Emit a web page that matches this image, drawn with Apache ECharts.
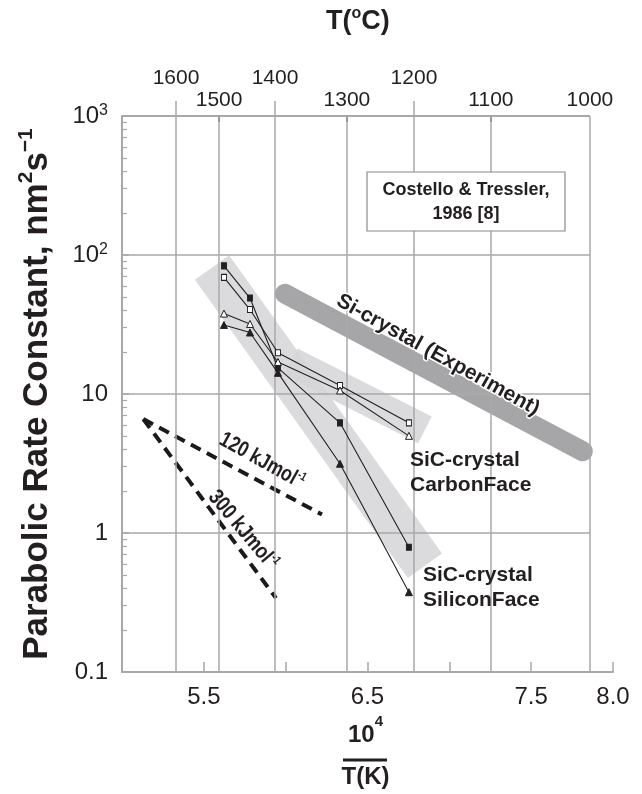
<!DOCTYPE html>
<html><head><meta charset="utf-8">
<script src="https://cdn.jsdelivr.net/npm/echarts@6/dist/echarts.min.js"></script>
<style>html,body{margin:0;padding:0;background:#fff}#c{width:642px;height:794px}</style>
</head><body><div id="c"></div>
<script>
// ---- data (x = 10^4 / T(K), y = parabolic rate constant, nm^2 s^-1) ----
const sicX = [5.623, 5.782, 5.953, 6.332, 6.753];
const siFaceSquare   = [83.5, 49.0, 15.4, 6.2, 0.79];
const siFaceTriangle = [31.4, 27.7, 14.2, 3.15, 0.375];
const cFaceSquare    = [69.0, 40.5, 19.8, 11.5, 6.2];
const cFaceTriangle  = [37.9, 31.9, 17.0, 10.6, 5.0];

const siCrystalBandX = [5.996, 7.816];
const siCrystalBandY = [52.6, 3.87];
const siliconBandX = [5.550, 6.851];
const siliconBandY = [81.3, 0.581];
const carbonBandX = [6.032, 6.851];
const carbonBandY = [17.0, 5.51];

const ea120X = [5.130, 6.222];
const ea120Y = [6.60, 1.357];
const ea300X = [5.130, 5.941];
const ea300Y = [6.60, 0.340];

const tempLabels = [1600, 1500, 1400, 1300, 1200, 1100, 1000];
const tempX = [5.330, 5.593, 5.935, 6.374, 6.784, 7.254, 7.859];
const upperRow = [1600, 1400, 1200];
const lowerRow = [1500, 1300, 1100, 1000];
const bottomLabels = [5.5, 6.5, 7.5, 8.0];
const yDecades = [0.1, 1, 10, 100, 1000];
const yMinor = [0.2,0.3,0.4,0.5,0.6,0.7,0.8,0.9, 2,3,4,5,6,7,8,9, 20,30,40,50,60,70,80,90, 200,300,400,500,600,700,800,900];

// ---- chart ----
const FONT = "'Liberation Sans', Arial, Helvetica, sans-serif";
const INK = '#231f20';
const GRID = '#a8a8aa';
const xMin = 5.0, xMax = 8.0, yMin = 0.1, yMax = 1000;

function pts(xs, ys) { return xs.map((x, i) => [x, ys[i]]); }
function xOfTemp(t) { return tempX[tempLabels.indexOf(t)]; }
function tempFmt(v) {
  let best = 0;
  tempX.forEach((x, i) => { if (Math.abs(x - v) < Math.abs(tempX[best] - v)) best = i; });
  return String(tempLabels[best]);
}

const gridLines = [];
tempX.forEach(x => gridLines.push([{ coord: [x, yMin] }, { coord: [x, yMax] }]));
yDecades.slice(1).forEach(v => gridLines.push([
  { coord: [xMin, v], lineStyle: { width: v === yMax ? 2 : 1.5 } },
  { coord: [tempX[tempX.length - 1], v] }
]));

const chart = echarts.init(document.getElementById('c'), null, { renderer: 'canvas' });

function dataSeries(name, ys, symbol, filled) {
  return {
    name, type: 'line', data: pts(sicX, ys), z: 5, silent: true,
    symbol, symbolSize: symbol === 'rect' ? [5, 6] : 7, showSymbol: true,
    lineStyle: { color: INK, width: 1.1 },
    itemStyle: { color: filled ? INK : '#fff', borderColor: INK, borderWidth: 1 },
    emphasis: { disabled: true }
  };
}
function band(name, xs, ys, width, color, cap, opacity) {
  return {
    name, type: 'line', data: pts(xs, ys), z: 2, silent: true,
    symbol: 'none', showSymbol: false,
    lineStyle: { color, width, cap, opacity },
    emphasis: { disabled: true }
  };
}
function dashed(name, xs, ys) {
  return {
    name, type: 'line', data: pts(xs, ys), z: 3, silent: true,
    symbol: 'none', showSymbol: false,
    lineStyle: { color: '#1a1a1a', width: 4, type: [11, 7], cap: 'butt' },
    emphasis: { disabled: true }
  };
}

const supStyle = { fontFamily: FONT, fontWeight: 'bold', fontSize: 12, fill: INK, verticalAlign: 'top', lineHeight: 12 };

const option = {
  animation: false,
  backgroundColor: '#fff',
  title: {
    text: '{a|T(}{s|o}{a|C)}',
    left: 326, top: 6, padding: 0,
    textStyle: {
      rich: {
        a: { fontFamily: FONT, fontWeight: 'bold', fontSize: 27, color: INK, lineHeight: 32 },
        s: { fontFamily: FONT, fontWeight: 'bold', fontSize: 16, color: INK, verticalAlign: 'top', lineHeight: 18 }
      }
    }
  },
  grid: { left: 122, right: 29, top: 116, bottom: 113, containLabel: false },
  xAxis: [
    {
      type: 'value', position: 'bottom', min: xMin, max: xMax, interval: 0.5,
      axisLine: { show: true, lineStyle: { color: GRID, width: 2 } },
      axisTick: { show: true, inside: true, length: 10, lineStyle: { color: GRID, width: 1.5 } },
      splitLine: { show: false },
      axisLabel: {
        margin: 13, fontFamily: FONT, fontSize: 24, color: INK,
        formatter: v => bottomLabels.some(b => Math.abs(b - v) < 1e-9) ? v.toFixed(1) : ''
      },
      name: '{n|10}{s|4}\n{n|T(K)}',
      nameLocation: 'middle', nameGap: 42,
      nameTextStyle: {
        padding: [0, 4, 0, 0],
        rich: {
          n: { fontFamily: FONT, fontWeight: 'bold', fontSize: 24, color: INK, lineHeight: 42 },
          s: { fontFamily: FONT, fontWeight: 'bold', fontSize: 15, color: INK, verticalAlign: 'top', lineHeight: 30 }
        }
      }
    },
    {
      type: 'value', position: 'top', min: xMin, max: xMax,
      axisLine: { show: false }, splitLine: { show: false },
      axisTick: { show: true, inside: false, length: 15, customValues: upperRow.map(xOfTemp), lineStyle: { color: GRID, width: 1.5 } },
      axisLabel: { customValues: upperRow.map(xOfTemp), margin: 27, fontFamily: FONT, fontSize: 21, color: INK, formatter: tempFmt }
    },
    {
      type: 'value', position: 'top', min: xMin, max: xMax,
      axisLine: { show: false }, splitLine: { show: false },
      axisTick: { show: true, inside: true, length: 6, customValues: lowerRow.slice(0, 3).map(xOfTemp), lineStyle: { color: '#333', width: 1.5 } },
      axisLabel: { customValues: lowerRow.map(xOfTemp), margin: 5, fontFamily: FONT, fontSize: 21, color: INK, formatter: tempFmt }
    }
  ],
  yAxis: [
    {
      type: 'log', logBase: 10, min: yMin, max: yMax, position: 'left',
      axisLine: { show: true, lineStyle: { color: GRID, width: 2 } },
      axisTick: { show: true, inside: true, length: 7, lineStyle: { color: GRID, width: 1.5 } },
      splitLine: { show: false },
      axisLabel: {
        margin: 14, fontFamily: FONT, fontSize: 24, color: INK,
        formatter: v => {
          const e = Math.round(Math.log10(v));
          if (e >= 2) return '{b|10}{s|' + e + '}';
          return e < 0 ? '0.1' : String(Math.pow(10, e));
        },
        rich: {
          b: { fontFamily: FONT, fontSize: 24, color: INK, lineHeight: 27 },
          s: { fontFamily: FONT, fontSize: 16, color: INK, verticalAlign: 'top', lineHeight: 16 }
        }
      },
      name: '{t|Parabolic Rate Constant, nm}{s|2}{t|s}{s|\u22121}',
      nameLocation: 'middle', nameRotate: 90, nameGap: 64,
      nameTextStyle: {
        rich: {
          t: { fontFamily: FONT, fontWeight: 'bold', fontSize: 35, color: INK, lineHeight: 42 },
          s: { fontFamily: FONT, fontWeight: 'bold', fontSize: 21, color: INK, verticalAlign: 'top', lineHeight: 24 }
        }
      }
    },
    {
      type: 'log', logBase: 10, min: yMin, max: yMax, position: 'left',
      axisLine: { show: false }, splitLine: { show: false }, axisLabel: { show: false },
      axisTick: { show: true, inside: true, length: 5, customValues: yMinor, lineStyle: { color: GRID, width: 1.2 } }
    }
  ],
  series: [
    {
      name: 'grid', type: 'line', data: [], z: 1, silent: true, symbol: 'none',
      markLine: {
        silent: true, symbol: ['none', 'none'], animation: false,
        label: { show: false },
        lineStyle: { color: GRID, width: 1.5, type: 'solid' },
        emphasis: { disabled: true },
        data: gridLines
      }
    },
    band('Silicon face band', siliconBandX, siliconBandY, 42, '#d5d5d7', 'butt', 0.85),
    band('Carbon face band', carbonBandX, carbonBandY, 30, '#d5d5d7', 'butt', 0.85),
    band('Si-crystal (Experiment)', siCrystalBandX, siCrystalBandY, 20, '#a6a6a8', 'round', 1),
    dashed('120 kJ/mol', ea120X, ea120Y),
    dashed('300 kJ/mol', ea300X, ea300Y),
    dataSeries('SiC Si-face (square)', siFaceSquare, 'rect', true),
    dataSeries('SiC Si-face (triangle)', siFaceTriangle, 'triangle', true),
    dataSeries('SiC C-face (square)', cFaceSquare, 'rect', false),
    dataSeries('SiC C-face (triangle)', cFaceTriangle, 'triangle', false)
  ],
  graphic: [
    { type: 'rect', z: 100, shape: { x: 367, y: 172, width: 198, height: 59 },
      style: { fill: '#fff', stroke: '#8a8a8c', lineWidth: 1.2 } },
    { type: 'text', z: 101, x: 466, y: 202,
      style: { text: 'Costello & Tressler,\n1986 [8]', fontFamily: FONT, fontWeight: 'bold', fontSize: 18,
               lineHeight: 24, fill: INK, align: 'center', verticalAlign: 'middle' } },
    { type: 'line', z: 100, shape: { x1: 343, y1: 760, x2: 387, y2: 760 },
      style: { stroke: INK, lineWidth: 3 } },
    { type: 'text', z: 100, x: 438, y: 355, rotation: -29 * Math.PI / 180,
      style: { text: 'Si-crystal (Experiment)', fontFamily: FONT, fontWeight: 'bold', fontSize: 21,
               fill: INK, stroke: '#fff', lineWidth: 3, align: 'center', verticalAlign: 'middle' } },
    { type: 'text', z: 100, x: 262, y: 461, rotation: -29 * Math.PI / 180, scaleX: 0.8,
      style: { text: '{m|120 kJmol}{s|-1}', align: 'center', verticalAlign: 'middle',
               rich: { m: { fontFamily: FONT, fontWeight: 'bold', fontSize: 22, fill: INK, lineHeight: 24 }, s: supStyle } } },
    { type: 'text', z: 100, x: 243, y: 530, rotation: -50 * Math.PI / 180, scaleX: 0.82,
      style: { text: '{m|300 kJmol}{s|-1}', align: 'center', verticalAlign: 'middle',
               rich: { m: { fontFamily: FONT, fontWeight: 'bold', fontSize: 22, fill: INK, lineHeight: 24 }, s: supStyle } } },
    { type: 'text', z: 100, x: 410, y: 472.5,
      style: { text: 'SiC-crystal\nCarbonFace', fontFamily: FONT, fontWeight: 'bold', fontSize: 21,
               lineHeight: 25, fill: INK, align: 'left', verticalAlign: 'middle' } },
    { type: 'text', z: 100, x: 423, y: 587.5,
      style: { text: 'SiC-crystal\nSiliconFace', fontFamily: FONT, fontWeight: 'bold', fontSize: 21,
               lineHeight: 25, fill: INK, align: 'left', verticalAlign: 'middle' } }
  ]
};
chart.setOption(option);
</script>
</body></html>
